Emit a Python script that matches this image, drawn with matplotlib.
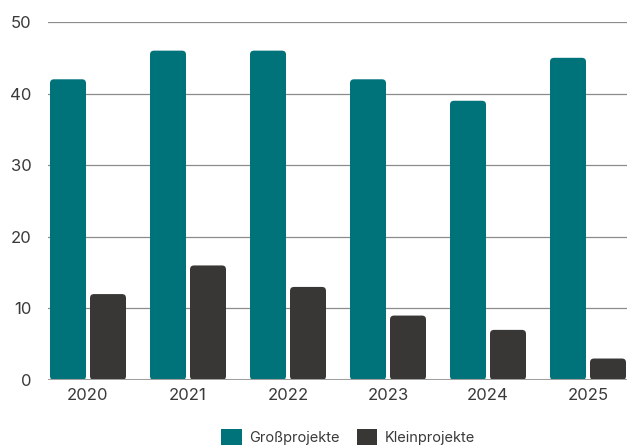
#!/usr/bin/env python3
import numpy as np
import matplotlib
matplotlib.use("Agg")
import matplotlib.pyplot as plt
from matplotlib.patches import FancyBboxPatch, Patch

# data
years = ["2020", "2021", "2022", "2023", "2024", "2025"]
gross = [42, 46, 46, 42, 39, 45]
klein = [12, 16, 13, 9, 7, 3]
yticks = [0, 10, 20, 30, 40, 50]

teal = "#00737a"
dark = "#393736"

plt.rcParams["font.family"] = ["Inter", "DejaVu Sans"]

fig = plt.figure(figsize=(6.27, 4.48), dpi=100)
ax = fig.add_axes([48/627, 1 - 380/448, 1 - 48/627, (380 - 22)/448])

x = np.arange(len(years))
w = 0.36
b1 = ax.bar(x - 0.2, gross, w, color=teal, zorder=2)
b2 = ax.bar(x + 0.2, klein, w, color=dark, zorder=2)

# swap the plain rectangles for ones with rounded corners
for bars in (b1, b2):
    for r in bars:
        r.set_visible(False)
        p = FancyBboxPatch((r.get_x(), r.get_y()), r.get_width(), r.get_height(),
                           boxstyle="round,pad=0,rounding_size=0.04",
                           mutation_aspect=14, facecolor=r.get_facecolor(),
                           edgecolor="none", zorder=2)
        ax.add_patch(p)

ax.set_xlim(-0.4, 5.39)
ax.set_ylim(0, 50)
ax.set_yticks(yticks)
ax.set_xticks(x)
ax.set_xticklabels(years)
ax.tick_params(length=0, labelsize=12, colors="#3a3a3a")
ax.tick_params(axis="y", pad=12)
ax.tick_params(axis="x", pad=6)

for v in yticks[1:]:
    ax.axhline(v, color="#8c8c8c", lw=0.9, zorder=1)
ax.axhline(0, color="#a0a0a0", lw=2.2, zorder=3)

for s in ax.spines.values():
    s.set_visible(False)

handles = [Patch(facecolor=teal), Patch(facecolor=dark)]
fig.legend(handles=handles, labels=["Großprojekte", "Kleinprojekte"],
           loc="center", bbox_to_anchor=(348/627, 1 - 437/448), ncol=2,
           frameon=False, fontsize=10.5, handlelength=1.4, handleheight=1.4,
           handletextpad=0.5, columnspacing=1.2, labelcolor="#3a3a3a")

fig.savefig("out.png", dpi=100)
